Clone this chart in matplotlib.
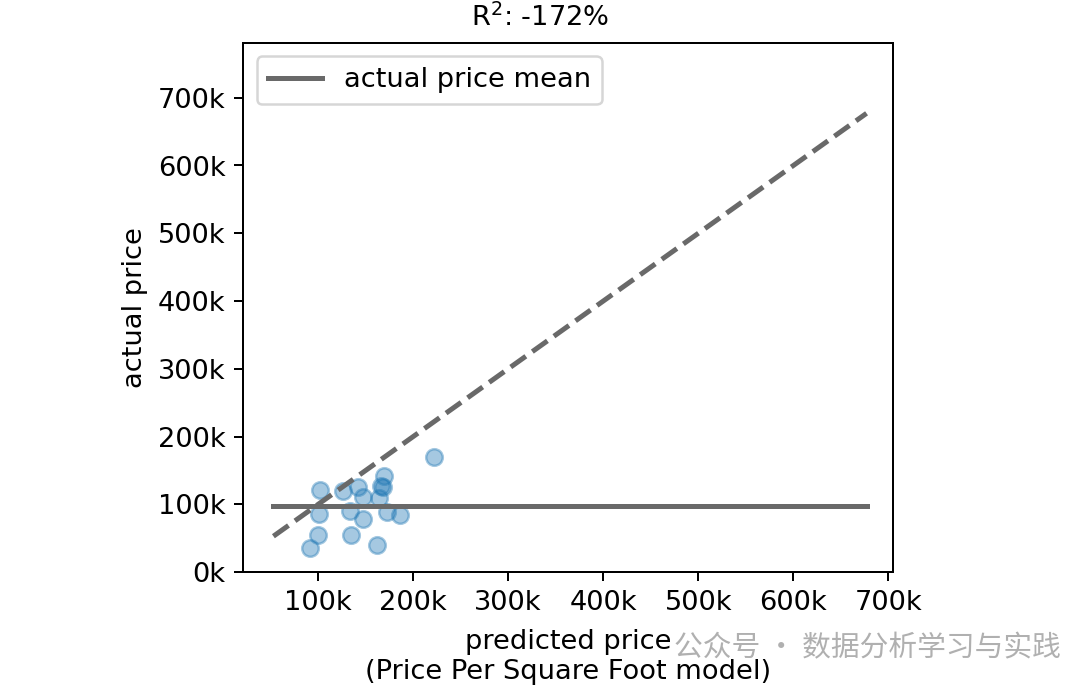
import numpy as np
import matplotlib
matplotlib.use("Agg")
import matplotlib.pyplot as plt
from matplotlib.ticker import FuncFormatter

# predicted vs actual prices
predicted = [102000, 126000, 142000, 169000, 166000, 168000, 147000, 164000, 222000,
             101000, 134000, 147000, 172000, 186000, 100000, 135000, 91000, 162000]
actual = [121000, 120000, 126000, 142000, 127000, 125000, 111000, 109000, 170000,
          86000, 90000, 78000, 89000, 84000, 55000, 55000, 35000, 40000]
line_range = [53000, 677000]
r2_label = "R$^2$: -172%"

actual_mean = np.mean(actual)

plt.rcParams["font.size"] = 10.9

fig = plt.figure(figsize=(6.0, 3.839), dpi=180)
ax = fig.add_axes([0.225, 0.172, 0.602, 0.766])

ax.scatter(predicted, actual, s=44, alpha=0.4, color="C0")
ax.plot(line_range, line_range, ls="--", lw=2, color="dimgray")
ax.plot(line_range, [actual_mean, actual_mean], lw=2, color="dimgray",
        label="actual price mean")

ax.set_xlim(21000, 705000)
ax.set_ylim(0, 781000)
ax.set_xticks(np.arange(100000, 800000, 100000))
ax.set_yticks(np.arange(0, 800000, 100000))
kfmt = FuncFormatter(lambda v, p: "%dk" % round(v / 1000))
ax.xaxis.set_major_formatter(kfmt)
ax.yaxis.set_major_formatter(kfmt)

ax.set_xlabel("predicted price\n(Price Per Square Foot model)", labelpad=5.5)
ax.set_ylabel("actual price")
fig.suptitle(r2_label, y=0.995, fontsize=10.9)
ax.legend(loc="upper left")

# watermark
fig.text(0.982, 0.062, "公众号 · 数据分析学习与实践", ha="right", va="center",
         fontsize=11.5, color="#b0b0b0", family=["Noto Sans CJK SC", "DejaVu Sans"])

fig.savefig("out.png", dpi=180)
